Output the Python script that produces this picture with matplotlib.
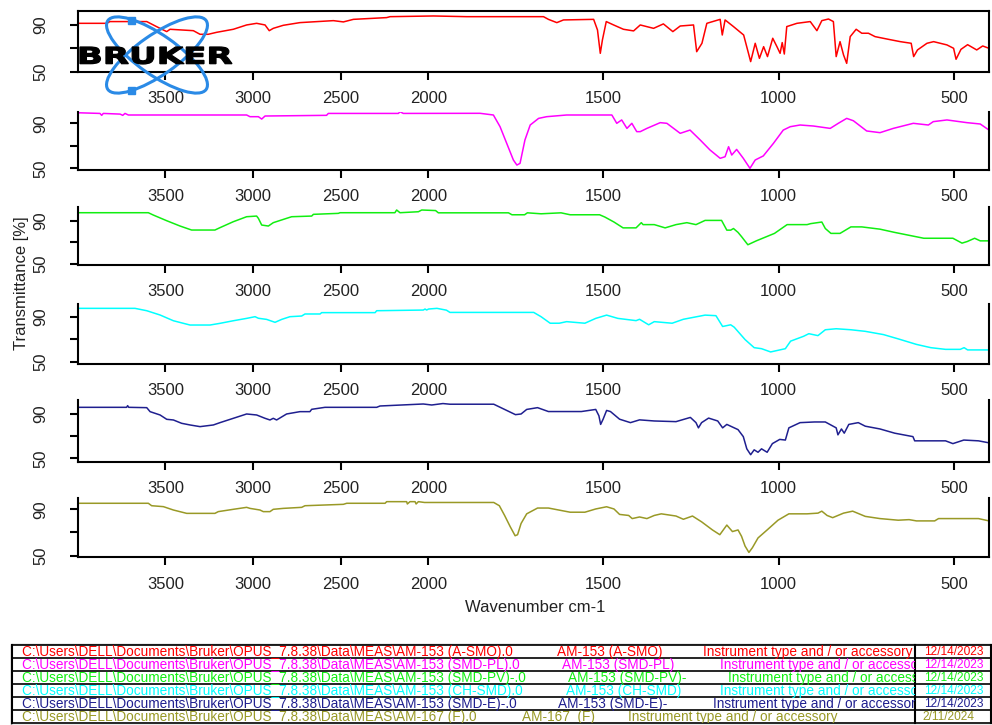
import numpy as np
import matplotlib.pyplot as plt
from matplotlib.patches import Ellipse, Rectangle, PathPatch
from matplotlib.textpath import TextPath
from matplotlib.font_manager import FontProperties
from matplotlib.transforms import Affine2D

plt.rcParams['font.family'] = ['Liberation Sans', 'DejaVu Sans']

W, H = 992, 725

# FTIR spectra, (wavenumber cm-1, transmittance %)
a_smo = np.array([
    (4000, 91.4), (3835, 91.4), (3816, 92.9), (3606, 92.9), (3549, 88.5), (3492, 84.3),
    (3473, 86.3), (3340, 85.1), (3302, 82.0), (3255, 82.0), (3207, 83.7), (3112, 86.3),
    (3036, 90.0), (2979, 91.4), (2931, 90.0), (2907, 85.1), (2884, 87.1), (2827, 89.7),
    (2732, 92.0), (2541, 93.7), (2484, 92.6), (2427, 94.8), (2237, 96.3), (2218, 97.1),
    (1985, 97.7), (1890, 97.1), (1852, 97.1), (1671, 97.1), (1657, 94.8), (1633, 92.0),
    (1614, 94.3), (1528, 94.8), (1517, 85.7), (1509, 65.7), (1503, 77.1), (1492, 92.9),
    (1471, 90.0), (1443, 86.3), (1414, 84.9), (1395, 90.0), (1357, 87.1), (1329, 90.9),
    (1302, 84.3), (1281, 89.1), (1243, 90.0), (1234, 67.1), (1219, 74.3), (1205, 91.4),
    (1167, 94.8), (1161, 81.4), (1153, 94.3), (1129, 88.6), (1100, 81.4), (1080, 58.6),
    (1067, 74.3), (1055, 61.4), (1043, 71.4), (1032, 62.9), (1017, 78.6), (1005, 71.4),
    (996, 65.7), (990, 74.9), (984, 65.1), (977, 88.6), (948, 91.4), (910, 92.9),
    (891, 85.1), (877, 93.7), (858, 95.1), (844, 92.9), (836, 62.9), (825, 75.7),
    (815, 64.3), (806, 57.1), (796, 80.0), (779, 86.3), (763, 82.9), (744, 82.9),
    (725, 80.0), (687, 77.7), (653, 75.7), (622, 74.3), (615, 62.9), (604, 68.6),
    (577, 74.3), (558, 75.7), (520, 72.9), (501, 70.0), (494, 60.6), (480, 69.1),
    (461, 73.1), (435, 68.6), (418, 72.0), (400, 70.0)])

smd_pl = np.array([
    (4000, 99.4), (3873, 98.8), (3863, 97.1), (3854, 98.8), (3758, 98.2), (3743, 97.1),
    (3730, 98.8), (3711, 97.4), (3036, 97.4), (3017, 95.9), (2969, 95.9), (2950, 93.8),
    (2931, 96.5), (2580, 97.1), (2570, 98.8), (2170, 98.8), (2161, 100.3), (2142, 98.8),
    (1852, 98.9), (1814, 97.4), (1795, 87.0), (1776, 72.2), (1757, 57.4), (1747, 52.9),
    (1738, 54.4), (1724, 75.2), (1709, 88.5), (1685, 94.4), (1662, 95.9), (1605, 97.4),
    (1476, 97.4), (1462, 90.0), (1448, 93.0), (1433, 85.5), (1419, 90.0), (1405, 82.6),
    (1395, 82.6), (1376, 85.5), (1338, 90.6), (1319, 90.0), (1281, 81.1), (1253, 84.0),
    (1224, 75.2), (1196, 66.3), (1167, 58.9), (1153, 60.3), (1143, 69.2), (1134, 61.8),
    (1120, 66.8), (1101, 58.9), (1082, 50.0), (1067, 57.4), (1044, 61.0), (1015, 72.2),
    (987, 84.0), (967, 87.0), (939, 88.5), (901, 87.6), (853, 85.5), (830, 90.0),
    (806, 94.4), (787, 92.3), (749, 83.2), (711, 81.7), (673, 85.5), (616, 90.0),
    (573, 88.5), (559, 91.5), (520, 93.0), (463, 90.6), (425, 89.4), (400, 84.0)])

smd_pv = np.array([
    (4000, 97.4), (3597, 97.4), (3568, 95.2), (3492, 90.0), (3416, 85.1), (3350, 81.4),
    (3217, 81.4), (3188, 83.6), (3112, 89.1), (3036, 93.7), (2979, 94.3), (2969, 92.2),
    (2950, 86.0), (2912, 85.1), (2884, 88.2), (2808, 92.2), (2779, 93.7), (2665, 94.3),
    (2655, 95.9), (2513, 96.8), (2503, 97.4), (2190, 97.4), (2180, 99.9), (2161, 97.4),
    (2056, 98.3), (2037, 99.9), (1979, 99.4), (1971, 97.3), (1943, 97.3), (1771, 97.3),
    (1761, 95.5), (1725, 95.5), (1717, 97.3), (1678, 96.4), (1621, 97.3), (1595, 95.5),
    (1511, 95.5), (1496, 93.4), (1470, 88.8), (1444, 83.4), (1407, 83.4), (1392, 88.2),
    (1387, 86.4), (1355, 86.4), (1324, 83.4), (1293, 86.4), (1262, 88.2), (1236, 86.4),
    (1210, 90.3), (1163, 90.3), (1148, 81.3), (1137, 81.3), (1129, 82.8), (1116, 79.2),
    (1106, 75.3), (1088, 67.8), (1064, 71.4), (1012, 78.3), (992, 82.8), (976, 86.4),
    (919, 86.4), (909, 87.3), (877, 88.8), (867, 82.8), (851, 78.3), (825, 78.3),
    (794, 84.3), (763, 84.3), (711, 82.2), (669, 79.2), (586, 73.8), (503, 73.8),
    (477, 69.3), (462, 70.8), (441, 73.8), (425, 71.4), (400, 71.4)])

ch_smd = np.array([
    (4000, 97.4), (3673, 97.4), (3606, 95.3), (3530, 91.5), (3454, 86.4), (3359, 82.6),
    (3245, 82.6), (3188, 84.1), (3112, 86.4), (3036, 88.5), (2988, 90.0), (2969, 88.6),
    (2922, 87.6), (2874, 85.0), (2836, 87.6), (2789, 90.0), (2722, 90.6), (2703, 92.4),
    (2617, 92.4), (2608, 93.6), (2303, 93.6), (2294, 95.3), (2028, 95.9), (2018, 96.8),
    (2009, 95.9), (1999, 96.8), (1975, 97.4), (1948, 95.8), (1938, 93.8), (1699, 93.8),
    (1678, 90.0), (1652, 84.2), (1626, 84.2), (1605, 85.6), (1553, 84.2), (1522, 88.5),
    (1491, 91.4), (1459, 88.5), (1407, 86.5), (1397, 87.7), (1371, 82.8), (1355, 85.6),
    (1304, 84.2), (1272, 87.7), (1210, 91.4), (1179, 90.9), (1160, 81.3), (1137, 82.8),
    (1127, 80.7), (1096, 69.7), (1070, 62.5), (1049, 61.6), (1023, 58.7), (997, 60.5),
    (981, 61.6), (966, 68.3), (929, 72.6), (914, 74.9), (888, 73.2), (867, 78.4),
    (836, 79.3), (794, 78.4), (753, 77.0), (701, 74.1), (659, 70.3), (607, 65.4),
    (566, 62.5), (524, 61.0), (482, 61.0), (471, 62.5), (461, 60.5), (400, 60.5)])

smd_e = np.array([
    (4000, 96.0), (3721, 96.0), (3715, 97.5), (3709, 96.0), (3606, 95.7), (3587, 92.1),
    (3530, 89.1), (3492, 85.2), (3454, 84.6), (3407, 81.6), (3359, 80.1), (3302, 78.6),
    (3226, 80.1), (3188, 82.2), (3112, 86.1), (3036, 90.0), (2979, 89.1), (2931, 86.1),
    (2903, 84.6), (2884, 86.1), (2865, 84.6), (2808, 90.0), (2732, 92.1), (2675, 92.1),
    (2665, 94.2), (2589, 96.0), (2294, 96.0), (2275, 97.2), (2028, 99.0), (1990, 98.1),
    (1958, 99.4), (1938, 98.8), (1813, 98.8), (1782, 94.1), (1751, 89.4), (1735, 90.0),
    (1719, 94.1), (1688, 95.7), (1657, 92.2), (1563, 92.2), (1522, 94.1), (1513, 88.4),
    (1508, 80.6), (1501, 85.3), (1491, 93.2), (1480, 92.2), (1454, 85.3), (1423, 82.2),
    (1397, 84.7), (1355, 83.7), (1293, 83.1), (1252, 86.9), (1236, 82.2), (1229, 77.5),
    (1220, 82.2), (1200, 86.3), (1174, 83.7), (1160, 77.5), (1148, 80.6), (1116, 75.9),
    (1101, 69.6), (1091, 58.6), (1080, 53.3), (1070, 57.7), (1059, 55.5), (1049, 58.6),
    (1033, 55.5), (1018, 63.3), (997, 67.1), (981, 66.5), (971, 77.5), (939, 82.2),
    (898, 82.8), (867, 82.8), (836, 77.5), (831, 71.2), (821, 76.5), (813, 72.7),
    (800, 80.6), (773, 82.2), (753, 79.0), (711, 76.5), (669, 72.7), (617, 69.6),
    (612, 65.8), (524, 65.8), (503, 63.3), (472, 66.5), (430, 65.8), (400, 64.0)])

f_167 = np.array([
    (4000, 95.2), (3597, 95.2), (3578, 93.1), (3511, 92.3), (3454, 89.4), (3378, 86.5),
    (3217, 86.5), (3198, 88.0), (3112, 90.0), (3036, 91.7), (3017, 90.8), (2960, 89.4),
    (2941, 88.0), (2903, 88.0), (2884, 90.0), (2827, 90.8), (2722, 91.7), (2703, 93.1),
    (2484, 94.3), (2465, 95.2), (2246, 95.2), (2237, 96.6), (2123, 96.6), (2119, 94.6),
    (2104, 96.6), (2075, 96.6), (2069, 94.6), (2056, 96.6), (2021, 95.9), (1813, 95.9),
    (1797, 93.1), (1782, 84.7), (1766, 75.0), (1752, 67.2), (1745, 68.1), (1735, 77.8),
    (1719, 86.1), (1688, 91.1), (1657, 91.1), (1595, 87.5), (1553, 87.5), (1522, 90.3),
    (1491, 92.2), (1470, 90.3), (1454, 85.6), (1428, 84.7), (1418, 82.0), (1397, 83.4),
    (1376, 82.0), (1355, 84.7), (1335, 86.1), (1293, 84.2), (1272, 81.4), (1246, 84.2),
    (1220, 79.2), (1189, 72.2), (1168, 68.1), (1148, 76.4), (1132, 70.8), (1116, 72.2),
    (1106, 66.7), (1096, 58.3), (1085, 52.8), (1075, 56.9), (1059, 65.3), (1033, 72.2),
    (1002, 80.6), (971, 86.1), (919, 86.1), (888, 86.7), (877, 88.4), (862, 84.7),
    (846, 82.8), (815, 86.7), (789, 88.4), (753, 83.9), (711, 82.0), (659, 80.6),
    (628, 81.1), (607, 80.0), (555, 80.0), (544, 82.0), (430, 82.0), (400, 80.0)])

spectra = [a_smo, smd_pl, smd_pv, ch_smd, smd_e, f_167]
colors = ['#ff0000', '#ff00ff', '#11ee11', '#00ffff', '#1f1f8f', '#999926']
ylims = [(49.7, 101.7), (48.5, 99.8), (49.1, 102.4), (48.0, 101.0), (47.0, 102.6), (48.6, 99.5)]

xticks = [3500, 3000, 2500, 2000, 1500, 1000, 500]

file_paths = [
    r'C:\Users\DELL\Documents\Bruker\OPUS_7.8.38\Data\MEAS\AM-153 (A-SMO).0',
    r'C:\Users\DELL\Documents\Bruker\OPUS_7.8.38\Data\MEAS\AM-153 (SMD-PL).0',
    r'C:\Users\DELL\Documents\Bruker\OPUS_7.8.38\Data\MEAS\AM-153 (SMD-PV)-.0',
    r'C:\Users\DELL\Documents\Bruker\OPUS_7.8.38\Data\MEAS\AM-153 (CH-SMD).0',
    r'C:\Users\DELL\Documents\Bruker\OPUS_7.8.38\Data\MEAS\AM-153 (SMD-E)-.0',
    r'C:\Users\DELL\Documents\Bruker\OPUS_7.8.38\Data\MEAS\AM-167 (F).0',
]
sample_names = ['AM-153 (A-SMO)', 'AM-153 (SMD-PL)', 'AM-153 (SMD-PV)-',
                'AM-153 (CH-SMD)', 'AM-153 (SMD-E)-', 'AM-167  (F)']
instrument = 'Instrument type and / or accessory'
dates = ['12/14/2023'] * 5 + ['2/11/2024']


# OPUS style axis: 4000-2000 compressed, 2000-400 stretched x2
def fwd(w):
    w = np.asarray(w, dtype=float)
    return np.where(w >= 2000, w, 2 * w - 2000)


def inv(u):
    u = np.asarray(u, dtype=float)
    return np.where(u >= 2000, u, (u + 2000) / 2)


def px_box(x0, y0, x1, y1):
    return [x0 / W, 1 - y1 / H, (x1 - x0) / W, (y1 - y0) / H]


fig = plt.figure(figsize=(W / 100, H / 100), dpi=100)

panel_top = [11.3, 112.3, 207.3, 304.3, 400.0, 498.3]
panel_bot = [72.0, 170.0, 265.0, 364.0, 461.7, 557.3]

for i, spec in enumerate(spectra):
    ax = fig.add_axes(px_box(77.7, panel_top[i], 989, panel_bot[i]))
    ax.set_xscale('function', functions=(fwd, inv))
    ax.plot(spec[:, 0], spec[:, 1], color=colors[i], lw=1.1)
    ax.set_xlim(4000, 400)
    ax.set_ylim(*ylims[i])
    ax.set_xticks(xticks)
    ax.set_xticklabels([str(t) for t in xticks])
    ax.minorticks_off()
    ax.set_yticks([50, 70, 90])
    ax.set_yticklabels(['50', '', '90'], rotation=90, va='center')
    ax.spines['top'].set_visible(i == 0)
    for s in ax.spines.values():
        s.set_linewidth(1.5)
    ax.tick_params(length=6, width=1.5, labelsize=12, labelcolor='#222222')
    ax.tick_params(axis='x', pad=8)
    ax.tick_params(axis='y', pad=15)

fig.text(22 / W, 1 - 283 / H, 'Transmittance [%]', rotation=90,
         ha='center', va='center', fontsize=12, color='#222222')
fig.text(535 / W, 1 - 608 / H, 'Wavenumber cm-1', ha='center', va='center',
         fontsize=12, color='#222222')

# overlay in pixel units for logo and table frame
ov = fig.add_axes([0, 0, 1, 1])
ov.set_xlim(0, W)
ov.set_ylim(H, 0)
ov.axis('off')
ov.patch.set_alpha(0)

blue = '#2a8ae6'
for ang in (35, -35):
    ov.add_patch(Ellipse((157, 55), 120, 40, angle=ang, fill=False, ec=blue, lw=2.2))
for cy in (20, 90):
    ov.add_patch(Rectangle((127.5, cy - 3.5), 7, 7, fc=blue, ec=blue))

tp = TextPath((0, 0), 'BRUKER', size=20,
              prop=FontProperties(family='DejaVu Sans', weight='bold'))
bb = tp.get_extents()
tr = Affine2D().translate(-bb.x0, -bb.y0).scale(152 / bb.width, -17 / bb.height).translate(80, 64)
ov.add_patch(PathPatch(tr.transform_path(tp), fc='black', ec='black', lw=0.9))

# sample table
t_top, row_h = 645, 13
t_left, t_sep, t_right = 12, 915, 991
t_bot = t_top + row_h * 6
ov.add_patch(Rectangle((t_left - 1.5, t_top - 1.5), t_right - t_left + 3, t_bot - t_top + 3,
                       fill=False, ec='#999999', lw=1))
for k in range(7):
    ov.plot([t_left, t_right], [t_top + k * row_h] * 2, color='black', lw=1.2)
for xv in (t_left, t_sep, t_right):
    ov.plot([xv, xv], [t_top, t_bot], color='black', lw=1.5)

tab = fig.add_axes(px_box(t_left, t_top, t_sep, t_bot))
tab.set_xlim(t_left, t_sep)
tab.set_ylim(t_bot, t_top)
tab.axis('off')
tab.patch.set_alpha(0)

name_x = [557, 562, 568, 566, 558, 522]
inst_x = [703, 720, 728, 720, 713, 628]
for r in range(6):
    yc = t_top + (r + 0.5) * row_h
    for xv, s in ((22, file_paths[r]), (name_x[r], sample_names[r]), (inst_x[r], instrument)):
        t = tab.text(xv, yc, s, color=colors[r], fontsize=9.8, ha='left', va='center', clip_on=True)
        t.set_clip_path(tab.patch)
    ov.text(924 if r < 5 else 922, yc + 0.5, dates[r], color=colors[r], fontsize=8.6,
            ha='left', va='center')

fig.savefig('out.png', dpi=100)
